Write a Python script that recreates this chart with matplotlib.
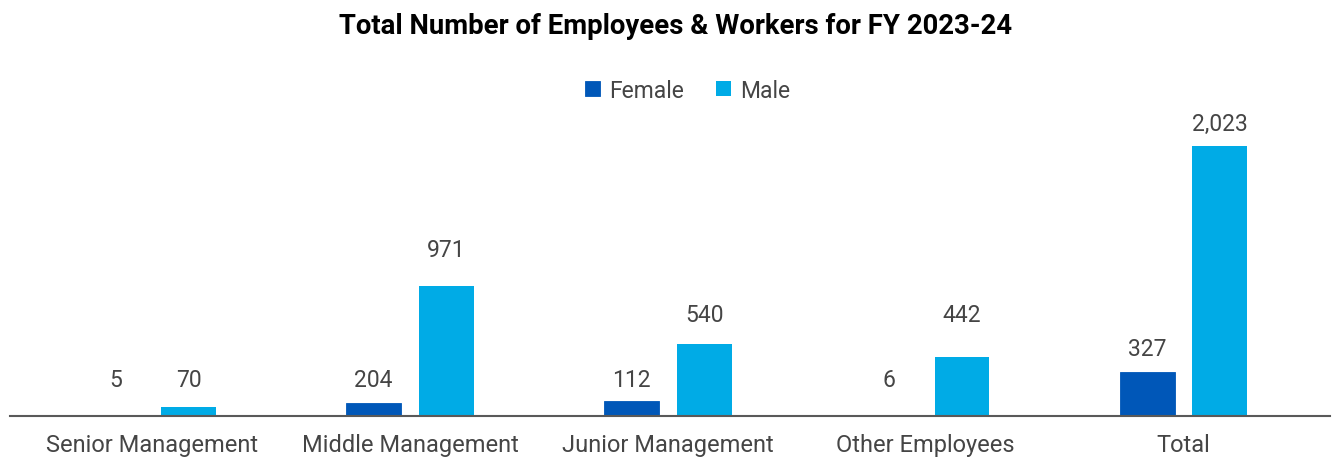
import numpy as np
import matplotlib.pyplot as plt

plt.rcParams['font.family'] = ['Roboto', 'DejaVu Sans']

categories = ['Senior Management', 'Middle Management', 'Junior Management', 'Other Employees', 'Total']
female = [5, 204, 112, 6, 327]
male = [70, 971, 540, 442, 2023]
# in the original the Middle Management female bar is drawn at about 97, not 204
female_drawn = [5, 97, 112, 6, 327]

# where the value labels sit (data units), as laid out in the original
female_label_y = [270, 270, 270, 270, 509]
male_label_y = [270, 1251, 757, 757, 2195]

c_female = '#0057b8'
c_male = '#00abe6'
grey = '#454545'

fig = plt.figure(figsize=(13.32, 4.6), dpi=100)
ax = fig.add_axes([10 / 1332, 1 - 417 / 460, 1320 / 1332, 317 / 460])

x = np.arange(len(categories))
w = 0.213
off = 0.141
b1 = ax.bar(x - off, female_drawn, w, color=c_female, edgecolor=c_female, linewidth=0.6,
            label='Female')
b2 = ax.bar(x + off, male, w, color=c_male, label='Male')

for bars, vals, ys in ((b1, female, female_label_y), (b2, male, male_label_y)):
    for b, v, ly in zip(bars, vals, ys):
        ax.text(b.get_x() + b.get_width() / 2, ly, f'{v:,}',
                ha='center', va='center', fontsize=16.5, color=grey)

ax.set_xlim(-0.551, 4.568)
ax.set_ylim(0, 2375)
ax.set_xticks(x)
ax.set_xticklabels(categories, fontsize=17, color=grey)
ax.tick_params(axis='x', length=0, pad=12)
ax.set_yticks([])
for s in ['top', 'right', 'left']:
    ax.spines[s].set_visible(False)
ax.spines['bottom'].set_color('#595959')
ax.spines['bottom'].set_linewidth(1.5)

fig.legend(loc='center', bbox_to_anchor=(688 / 1332, 1 - 91 / 460), ncol=2, frameon=False,
           fontsize=16.5, labelcolor=grey, handlelength=0.65, handleheight=0.65,
           columnspacing=1.4, handletextpad=0.4)

fig.text(676 / 1332, 1 - 26 / 460, 'Total Number of Employees & Workers for FY 2023-24',
         ha='center', va='center', fontsize=19.8, fontweight='bold', color='black')

fig.savefig('out.png', dpi=100, facecolor='white')
